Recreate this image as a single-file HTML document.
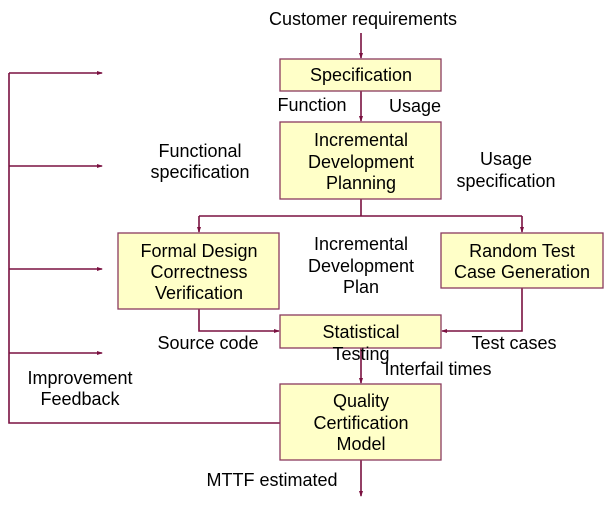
<!DOCTYPE html>
<html><head><style>
body{margin:0;width:614px;height:500px;background:#fff;overflow:hidden}
svg text{font-family:"Liberation Sans",sans-serif;font-size:18px;fill:#000;text-anchor:middle}
</style></head><body>
<svg width="614" height="500" viewBox="0 0 614 500">
<defs><marker id="a" markerWidth="6" markerHeight="6" refX="5" refY="3" orient="auto" markerUnits="userSpaceOnUse"><path d="M0,1 L6,3 L0,5z" fill="#7a1040"/></marker></defs>
<g stroke="#7a1040" stroke-width="1.6" fill="none">
<path d="M361,33 V58" marker-end="url(#a)"/>
<path d="M361,91 V121" marker-end="url(#a)"/>
<path d="M361,199 V216 M199,216 H522"/>
<path d="M199,216 V232" marker-end="url(#a)"/>
<path d="M522,216 V232" marker-end="url(#a)"/>
<path d="M199,309 V331 H279" marker-end="url(#a)"/>
<path d="M522,288 V331 H442" marker-end="url(#a)"/>
<path d="M361,348 V383" marker-end="url(#a)"/>
<path d="M361,460 V496" marker-end="url(#a)"/>
<path d="M280,423 H9 V73"/>
<path d="M9,73 H102" marker-end="url(#a)"/>
<path d="M9,166 H102" marker-end="url(#a)"/>
<path d="M9,269 H102" marker-end="url(#a)"/>
<path d="M9,353 H102" marker-end="url(#a)"/>
</g>
<g fill="#ffffc8" stroke="#8a3a5e" stroke-width="1.3">
<rect x="280" y="59" width="161" height="32"/>
<rect x="280" y="122" width="161" height="77"/>
<rect x="118" y="233" width="161" height="76"/>
<rect x="441" y="233" width="162" height="55"/>
<rect x="280" y="315" width="161" height="33"/>
<rect x="280" y="384" width="161" height="76"/>
</g>
<text x="363" y="25">Customer requirements</text>
<text x="361" y="81">Specification</text>
<text x="312" y="111">Function</text>
<text x="415" y="112">Usage</text>
<text x="361" y="146">Incremental</text>
<text x="361" y="168">Development</text>
<text x="361" y="189">Planning</text>
<text x="200" y="157">Functional</text>
<text x="200" y="178">specification</text>
<text x="506" y="165">Usage</text>
<text x="506" y="187">specification</text>
<text x="199" y="257">Formal Design</text>
<text x="199" y="278">Correctness</text>
<text x="199" y="299">Verification</text>
<text x="361" y="250">Incremental</text>
<text x="361" y="272">Development</text>
<text x="361" y="293">Plan</text>
<text x="522" y="257">Random Test</text>
<text x="522" y="278">Case Generation</text>
<text x="361" y="338">Statistical</text>
<text x="361" y="360">Testing</text>
<text x="208" y="349">Source code</text>
<text x="514" y="349">Test cases</text>
<text x="438" y="375">Interfail times</text>
<text x="80" y="384">Improvement</text>
<text x="80" y="405">Feedback</text>
<text x="361" y="407">Quality</text>
<text x="361" y="429">Certification</text>
<text x="361" y="450">Model</text>
<text x="272" y="486">MTTF estimated</text>
</svg>
</body></html>
